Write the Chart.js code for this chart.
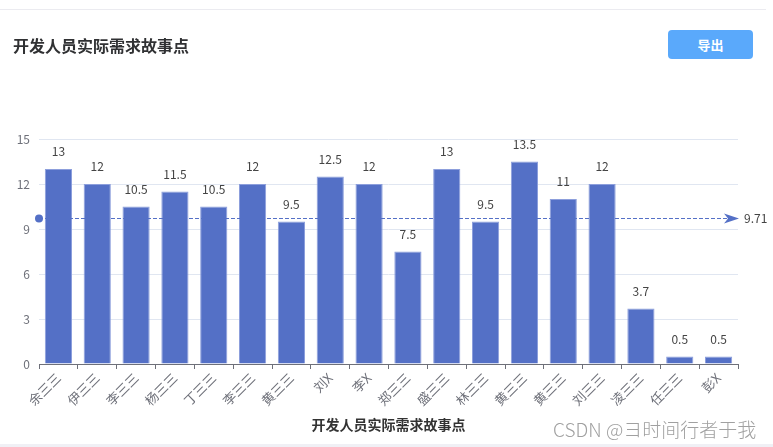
<!DOCTYPE html>
<html>
<head>
<meta charset="utf-8">
<script src="https://cdn.jsdelivr.net/npm/chart.js@4.4.1/dist/chart.umd.min.js"></script>
<style>
  html, body { margin: 0; padding: 0; background: #fff; }
  body { width: 773px; height: 447px; position: relative; overflow: hidden;
         font-family: "Noto Sans CJK SC", "Noto Sans", sans-serif; }
  #topline { position: absolute; left: 0; top: 9px; width: 766px; height: 1px; background: #ebebf0; }
  #bottomband { position: absolute; left: 0; top: 444px; width: 773px; height: 3px; background: #f0f0f5; }
  #title { position: absolute; left: 13px; top: 33px; font-size: 16px; font-weight: bold; color: #303133;
           line-height: 24px; white-space: nowrap; }
  #btn { position: absolute; left: 668px; top: 30px; width: 85px; height: 29px; border-radius: 4px;
         background: #5aa9fb; color: #fff; font-size: 13px; font-weight: bold; text-align: center; line-height: 29px; }
  #wm { position: absolute; left: 553px; top: 416px; font-size: 19px; color: #a0a0a0; white-space: nowrap;
        line-height: 26px; font-weight: 300; }
  #c { position: absolute; left: 0; top: 0; }
</style>
</head>
<body>
<div id="topline"></div>
<div id="bottomband"></div>
<canvas id="c" width="773" height="447"></canvas>
<div id="title">开发人员实际需求故事点</div>
<div id="btn">导出</div>
<div id="wm">CSDN @ヨ时间行者于我</div>
<script>
const chartTitle = "开发人员实际需求故事点";
const categories = ["余三三","伊三三","李三三","杨三三","丁三三","李三三","黄三三","刘X","李X","郑三三","盛三三","林三三","黄三三","黄三三","刘三三","凌三三","任三三","彭X"];
const storyPoints = [13, 12, 10.5, 11.5, 10.5, 12, 9.5, 12.5, 12, 7.5, 13, 9.5, 13.5, 11, 12, 3.7, 0.5, 0.5];
const yTicks = [0, 3, 6, 9, 12, 15];

const avgValue = storyPoints.reduce((a, b) => a + b, 0) / storyPoints.length;

const valueLabelPlugin = {
  id: 'valueLabels',
  afterDatasetsDraw(chart) {
    const ctx = chart.ctx;
    const meta = chart.getDatasetMeta(0);
    ctx.save();
    ctx.font = '12px "Noto Sans CJK SC", "Noto Sans", sans-serif';
    ctx.fillStyle = '#444';
    ctx.textAlign = 'center';
    ctx.textBaseline = 'alphabetic';
    meta.data.forEach((bar, i) => {
      ctx.fillText(String(storyPoints[i]), bar.x, bar.y - 13);
    });
    ctx.restore();
  }
};

const avgLinePlugin = {
  id: 'avgLine',
  afterDatasetsDraw(chart) {
    const ctx = chart.ctx;
    const area = chart.chartArea;
    const y = chart.scales.y.getPixelForValue(avgValue);
    const x0 = area.left;
    const x1 = area.right;
    const color = '#5470c6';
    ctx.save();
    ctx.strokeStyle = color;
    ctx.lineWidth = 1;
    ctx.setLineDash([4, 2]);
    ctx.beginPath();
    ctx.moveTo(x0, Math.round(y) + 0.5);
    ctx.lineTo(x1 - 6, Math.round(y) + 0.5);
    ctx.stroke();
    ctx.setLineDash([]);
    ctx.fillStyle = color;
    ctx.beginPath();
    ctx.arc(x0, y, 4, 0, Math.PI * 2);
    ctx.fill();
    ctx.beginPath();
    ctx.moveTo(x1 + 1, y);
    ctx.lineTo(x1 - 14, y - 5);
    ctx.lineTo(x1 - 10, y);
    ctx.lineTo(x1 - 14, y + 5);
    ctx.closePath();
    ctx.fill();
    ctx.font = '12px "Noto Sans CJK SC", "Noto Sans", sans-serif';
    ctx.fillStyle = '#444';
    ctx.textAlign = 'left';
    ctx.textBaseline = 'middle';
    ctx.fillText(avgValue.toFixed(2), x1 + 6, y);
    ctx.restore();
  }
};

new Chart(document.getElementById('c'), {
  type: 'bar',
  data: {
    labels: categories,
    datasets: [{
      label: chartTitle,
      data: storyPoints,
      backgroundColor: '#5470c6',
      borderColor: '#8d9fdc',
      borderWidth: 1,
      categoryPercentage: 1,
      barPercentage: 0.7
    }]
  },
  options: {
    responsive: false,
    animation: false,
    devicePixelRatio: 1,
    layout: { padding: { top: 139, right: 35, bottom: 0, left: 0 } },
    plugins: { legend: { display: false }, tooltip: { enabled: false } },
    scales: {
      x: {
        afterFit(s) { s.height = 83; },
        border: { display: true, color: '#6e7079', width: 1 },
        grid: { display: true, drawOnChartArea: false, drawTicks: true, tickLength: 5, color: '#6e7079', offset: true },
        ticks: {
          color: '#6e7079', font: { size: 13, family: '"Noto Sans CJK SC", sans-serif' },
          maxRotation: 45, minRotation: 45, autoSkip: false, padding: 1
        },
        title: {
          display: true, text: chartTitle, color: '#333',
          font: { size: 14, weight: 'bold', family: '"Noto Sans CJK SC", sans-serif' },
          padding: { top: 0, bottom: 14 }
        }
      },
      y: {
        min: 0, max: 15,
        afterFit(s) { s.width = 39; },
        afterBuildTicks(s) { s.ticks = yTicks.map(v => ({ value: v })); },
        border: { display: false },
        grid: { color: '#e0e6f1', drawTicks: false },
        ticks: { color: '#6e7079', font: { size: 12, family: '"Noto Sans CJK SC", sans-serif' }, padding: 9 }
      }
    }
  },
  plugins: [valueLabelPlugin, avgLinePlugin]
});
</script>
</body>
</html>
